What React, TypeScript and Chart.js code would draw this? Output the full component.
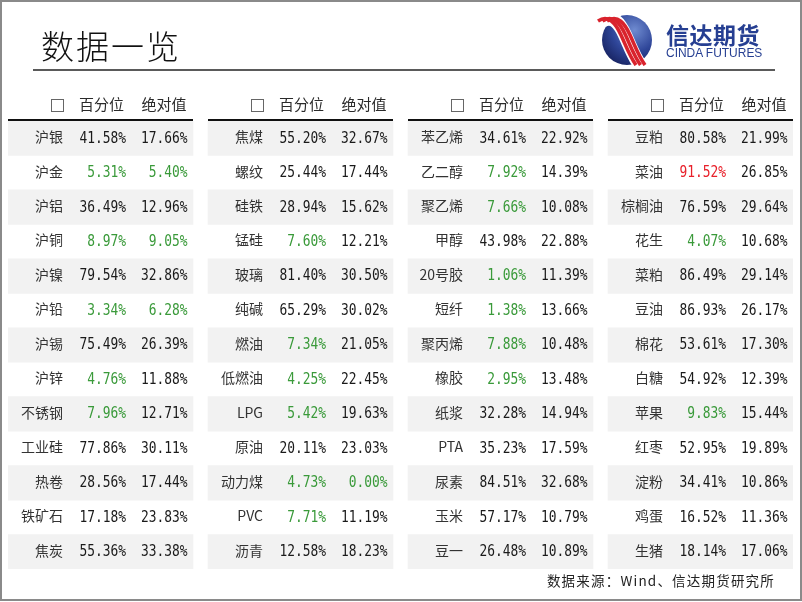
import React, { useEffect, useRef } from 'react';
import { Chart, registerables } from 'chart.js';

Chart.register(...registerables);

// ---------- data ----------
const rowIndex = ['0', '1', '2', '3', '4', '5', '6', '7', '8', '9', '10', '11', '12'];

const names1 = ['沪银', '沪金', '沪铝', '沪铜', '沪镍', '沪铅', '沪锡', '沪锌', '不锈钢', '工业硅', '热卷', '铁矿石', '焦炭'];
const pct1 = [41.58, 5.31, 36.49, 8.97, 79.54, 3.34, 75.49, 4.76, 7.96, 77.86, 28.56, 17.18, 55.36];
const abs1 = [17.66, 5.40, 12.96, 9.05, 32.86, 6.28, 26.39, 11.88, 12.71, 30.11, 17.44, 23.83, 33.38];

const names2 = ['焦煤', '螺纹', '硅铁', '锰硅', '玻璃', '纯碱', '燃油', '低燃油', 'LPG', '原油', '动力煤', 'PVC', '沥青'];
const pct2 = [55.20, 25.44, 28.94, 7.60, 81.40, 65.29, 7.34, 4.25, 5.42, 20.11, 4.73, 7.71, 12.58];
const abs2 = [32.67, 17.44, 15.62, 12.21, 30.50, 30.02, 21.05, 22.45, 19.63, 23.03, 0.00, 11.19, 18.23];

const names3 = ['苯乙烯', '乙二醇', '聚乙烯', '甲醇', '20号胶', '短纤', '聚丙烯', '橡胶', '纸浆', 'PTA', '尿素', '玉米', '豆一'];
const pct3 = [34.61, 7.92, 7.66, 43.98, 1.06, 1.38, 7.88, 2.95, 32.28, 35.23, 84.51, 57.17, 26.48];
const abs3 = [22.92, 14.39, 10.08, 22.88, 11.39, 13.66, 10.48, 13.48, 14.94, 17.59, 32.68, 10.79, 10.89];

const names4 = ['豆粕', '菜油', '棕榈油', '花生', '菜粕', '豆油', '棉花', '白糖', '苹果', '红枣', '淀粉', '鸡蛋', '生猪'];
const pct4 = [80.58, 91.52, 76.59, 4.07, 86.49, 86.93, 53.61, 54.92, 9.83, 52.95, 34.41, 16.52, 18.14];
const abs4 = [21.99, 26.85, 29.64, 10.68, 29.14, 26.17, 17.30, 12.39, 15.44, 19.89, 10.86, 11.36, 17.06];

const headerLabels = ['百分位', '绝对值'];
const titleText = '数据一览';
const sourceText = '数据来源：Wind、信达期货研究所';
const logoCn = '信达期货';
const logoEn = 'CINDA FUTURES';

// ---------- layout constants (in group units along the x scale) ----------
const groupNames = [names1, names2, names3, names4];
const groupPct = [pct1, pct2, pct3, pct4];
const groupAbs = [abs1, abs2, abs3, abs4];
const CELL_W = 0.925;
const COL_NAME = 0.275;
const COL_PCT = 0.59;
const COL_ABS = 0.8975;
const BOX_C = 0.245;

const GREEN = '#3a9a3a';
const RED = '#e8202a';

function drawNum(ctx: CanvasRenderingContext2D, text: string, xRight: number, y: number) {
  const sx = 0.86;
  ctx.save();
  ctx.translate(xRight, y);
  ctx.scale(sx, 1);
  ctx.fillText(text, 0, 0);
  ctx.restore();
}

const tablePlugin = {
  id: 'tableText',
  afterDatasetsDraw(chart: any) {
    const { ctx, chartArea, scales } = chart;
    const xs = scales.x;
    const ys = scales.y;
    ctx.save();
    for (let g = 0; g < groupNames.length; g++) {
      const x0 = xs.getPixelForValue(g);
      const x1 = xs.getPixelForValue(g + CELL_W);
      // header underline
      ctx.fillStyle = '#111';
      ctx.fillRect(Math.round(x0), Math.round(chartArea.top) - 2, Math.round(x1 - x0), 2);
      const hy = chartArea.top - 16;
      // checkbox
      const bx = xs.getPixelForValue(g + BOX_C);
      ctx.strokeStyle = '#666';
      ctx.lineWidth = 1;
      ctx.strokeRect(Math.round(bx - 6) + 0.5, Math.round(hy - 6) + 0.5, 12, 12);
      ctx.font = '15px "Noto Sans CJK SC"';
      ctx.textAlign = 'right';
      ctx.textBaseline = 'middle';
      ctx.fillStyle = '#2a2a2a';
      ctx.fillText(headerLabels[0], xs.getPixelForValue(g + COL_PCT) - 2, hy - 1);
      ctx.fillText(headerLabels[1], xs.getPixelForValue(g + COL_ABS) - 1, hy - 1);

      const names = groupNames[g];
      for (let r = 0; r < names.length; r++) {
        const y = ys.getPixelForValue(r) + 0.5;
        ctx.font = '14px "Noto Sans CJK SC"';
        ctx.fillStyle = '#333';
        ctx.fillText(names[r], xs.getPixelForValue(g + COL_NAME), y - 2);
        const p = groupPct[g][r];
        const a = groupAbs[g][r];
        ctx.font = '15px "DejaVu Sans Mono"';
        ctx.fillStyle = p > 90 ? RED : p < 10 ? GREEN : '#1a1a1a';
        drawNum(ctx, p.toFixed(2) + '%', xs.getPixelForValue(g + COL_PCT), y);
        ctx.fillStyle = a < 10 ? GREEN : '#1a1a1a';
        drawNum(ctx, a.toFixed(2) + '%', xs.getPixelForValue(g + COL_ABS), y);
      }
    }
    ctx.restore();
  },
};

function Logo() {
  const base = 'M 598 21 C 609 14, 616 24, 621 35 S 630 57, 636 65';
  return (
    <svg width={802} height={80} style={{ position: 'absolute', left: 0, top: 0 }}>
      <defs>
        <radialGradient id="lg" cx="0.65" cy="0.3" r="0.8">
          <stop offset="0" stopColor="#6f8bd0" />
          <stop offset="0.55" stopColor="#2f4699" />
          <stop offset="1" stopColor="#16215e" />
        </radialGradient>
        <clipPath id="lc">
          <rect x={590} y={10} width={60} height={56} />
        </clipPath>
      </defs>
      <circle cx={627} cy={40} r={25} fill="url(#lg)" />
      <g clipPath="url(#lc)">
        <path d={base} stroke="#ffffff" strokeWidth={14} fill="none" transform="translate(4,0)" />
        <path d={base} stroke="#d9232d" strokeWidth={3.6} fill="none" transform="translate(0,0)" />
        <path d={base} stroke="#d9232d" strokeWidth={3.6} fill="none" transform="translate(4.5,0)" />
        <path d={base} stroke="#d9232d" strokeWidth={3.6} fill="none" transform="translate(9,0)" />
      </g>
    </svg>
  );
}

export default function App() {
  const canvasRef = useRef<HTMLCanvasElement | null>(null);

  useEffect(() => {
    if (!canvasRef.current) return;
    const datasets = groupNames.map((names, g) => ({
      label: 'g' + g,
      data: names.map((_, r) => (r % 2 === 0 ? [g, g + CELL_W] : null)),
      backgroundColor: '#f2f2f2',
      borderWidth: 0,
      categoryPercentage: 1,
      barPercentage: 1,
      grouped: false,
    }));
    const chart = new Chart(canvasRef.current, {
      type: 'bar',
      data: { labels: rowIndex, datasets: datasets as any },
      options: {
        indexAxis: 'y',
        animation: false,
        responsive: false,
        devicePixelRatio: 1,
        layout: { padding: { left: 8, right: 9, top: 121, bottom: 33 } },
        plugins: { legend: { display: false }, tooltip: { enabled: false } },
        scales: {
          x: { type: 'linear', min: 0, max: 3 + CELL_W, display: false },
          y: { type: 'category', display: false, offset: true },
        },
      } as any,
      plugins: [tablePlugin],
    });
    return () => chart.destroy();
  }, []);

  return (
    <div style={{ position: 'fixed', left: 0, top: 0, width: 802, height: 602, background: '#fff', overflow: 'hidden' }}>
      <canvas ref={canvasRef} width={802} height={602} style={{ position: 'absolute', left: 0, top: 0 }} />
      <div
        style={{
          position: 'absolute',
          left: 41,
          top: 26,
          fontFamily: '"Noto Sans CJK SC"',
          fontWeight: 300,
          fontSize: 33,
          letterSpacing: 2,
          lineHeight: '38px',
          color: '#111',
        }}
      >
        {titleText}
      </div>
      <div style={{ position: 'absolute', left: 33, top: 69, width: 742, height: 2, background: '#5a5a5a' }} />
      <Logo />
      <div
        style={{
          position: 'absolute',
          left: 666,
          top: 20,
          fontFamily: '"Noto Sans CJK SC"',
          fontWeight: 700,
          fontSize: 23,
          lineHeight: '28px',
          color: '#263f92',
          letterSpacing: 0.5,
        }}
      >
        {logoCn}
      </div>
      <div
        style={{
          position: 'absolute',
          left: 666,
          top: 46,
          fontFamily: '"Liberation Sans", Arial',
          fontSize: 13,
          lineHeight: '14px',
          color: '#263f92',
          transform: 'scaleX(0.92)',
          transformOrigin: '0 0',
          whiteSpace: 'nowrap',
        }}
      >
        {logoEn}
      </div>
      <div
        style={{
          position: 'absolute',
          right: 27,
          top: 571,
          fontFamily: '"Noto Sans CJK SC"',
          fontSize: 13.5,
          lineHeight: '18px',
          letterSpacing: 1.2,
          color: '#222',
        }}
      >
        {sourceText}
      </div>
      <div
        style={{
          position: 'absolute',
          left: 0,
          top: 0,
          width: 802,
          height: 601,
          boxSizing: 'border-box',
          border: '2px solid #8a8a8a',
          pointerEvents: 'none',
        }}
      />
    </div>
  );
}
